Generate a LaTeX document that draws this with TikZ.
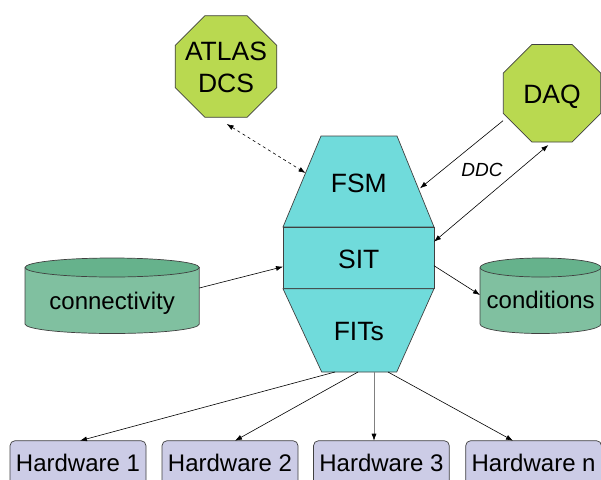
\documentclass[tikz,border=0pt]{standalone}
\usepackage{fontspec}
\setmainfont{Liberation Sans}
\usetikzlibrary{shapes.geometric,arrows.meta}
\definecolor{cyanfill}{RGB}{112,219,219}
\definecolor{octfill}{RGB}{185,217,80}
\definecolor{cylbody}{RGB}{128,192,160}
\definecolor{cyltop}{RGB}{102,178,140}
\definecolor{hwfill}{RGB}{204,204,230}
\definecolor{edgegray}{RGB}{64,64,64}
\begin{document}
\begin{tikzpicture}[x=1pt,y=-1pt]
\tikzset{
  outl/.style={draw=edgegray, line width=0.7pt},
  octa/.style={regular polygon, regular polygon sides=8, fill=octfill, outl, inner sep=0pt},
  biglbl/.style={font=\fontsize{26.5}{32}\selectfont, inner sep=0pt, align=center},
  medlbl/.style={font=\fontsize{24}{28}\selectfont, inner sep=0pt, anchor=base},
  hwbox/.style={fill=hwfill, outl, rounded corners=5pt},
  tip/.style={-{Latex[length=7pt,width=5pt]}, line width=0.6pt},
  graytip/.style={-{Latex[length=7pt,width=5pt,color=black]}, line width=0.6pt, draw=gray},
  dtip/.style={{Latex[length=7pt,width=5pt]}-{Latex[length=7pt,width=5pt]}, line width=0.6pt},
}
\useasboundingbox (0,0) rectangle (601,479);
\clip (0,0) rectangle (601,479);

% octagons
\node[octa, minimum size=110pt] (atlas) at (226,66.5) {};
\node[biglbl, anchor=center] (atlaslbl) at (226,67.7) {ATLAS\\DCS};
\node[octa, minimum size=105.5pt] (daq) at (552,93.3) {};
\node[biglbl, anchor=base] (daqlbl) at (552,103.3) {DAQ};

% central stack
\filldraw[fill=cyanfill, outl] (321,136) -- (397,136) -- (434,227) -- (283,227) -- cycle;
\filldraw[fill=cyanfill, outl] (283,227) rectangle (434,288.7);
\filldraw[fill=cyanfill, outl] (283,288.7) -- (434,288.7) -- (396.7,372) -- (321.7,372) -- cycle;
\node[biglbl, anchor=base] (fsm) at (358.8,192.7) {FSM};
\node[biglbl, anchor=base] (sit) at (358.8,268.3) {SIT};
\node[biglbl, anchor=base] (fits) at (358.8,340) {FITs};

% cylinders
\fill[cylbody] (25,267.5) rectangle (199.3,324);
\fill[cylbody] (112.15,324) ellipse [x radius=87.15pt, y radius=9.5pt];
\draw[outl] (25,267.5) -- (25,324) arc[start angle=180, end angle=360, x radius=87.15pt, y radius=9.5pt] -- (199.3,267.5);
\filldraw[fill=cyltop, outl] (112.15,267.5) ellipse [x radius=87.15pt, y radius=9.5pt];
\node[medlbl] (conn) at (112.15,309.3) {connectivity};

\fill[cylbody] (480,267.5) rectangle (601,324);
\fill[cylbody] (540.5,324) ellipse [x radius=60.5pt, y radius=9.5pt];
\draw[outl] (480,267.5) -- (480,324) arc[start angle=180, end angle=360, x radius=60.5pt, y radius=9.5pt] -- (601,267.5);
\filldraw[fill=cyltop, outl] (540.5,267.5) ellipse [x radius=60.5pt, y radius=9.5pt];
\node[medlbl] (cond) at (540.7,308.3) {conditions};

% hardware boxes
\draw[hwbox] (10,440.7) rectangle (146,500);
\draw[hwbox] (162,440.7) rectangle (298,500);
\draw[hwbox] (313.5,440.7) rectangle (449.3,500);
\draw[hwbox] (465.7,440.7) rectangle (601.5,500);
\node[medlbl] (hw1) at (78,471) {Hardware 1};
\node[medlbl] (hw2) at (230,471) {Hardware 2};
\node[medlbl] (hw3) at (381.4,471) {Hardware 3};
\node[medlbl] (hwn) at (533.6,471) {Hardware n};

% connector end points
\coordinate (atlasS) at (226.7,124);
\coordinate (fsmL) at (305.5,173);
\coordinate (daqA) at (503,120.7);
\coordinate (fsmR) at (420,188.3);
\coordinate (sitR) at (434,241.7);
\coordinate (daqB) at (548.3,145);
\coordinate (connR) at (199.3,288);
\coordinate (sitL) at (283,266.7);
\coordinate (sitR2) at (434,265.7);
\coordinate (condL) at (480,295);
\coordinate (f1) at (335,372);
\coordinate (f2) at (358,372);
\coordinate (f3) at (374,372);
\coordinate (f4) at (388,372);
\coordinate (h1) at (80,440.7);
\coordinate (h2) at (235,440.7);
\coordinate (h3) at (374,440.7);
\coordinate (h4) at (513,440.7);

% connectors
\draw[dtip, dash pattern=on 3pt off 3pt] (atlasS) -- (fsmL);
\draw[tip] (daqA) -- (fsmR);
\draw[dtip] (sitR) -- (daqB);
\node[font=\fontsize{19}{22}\selectfont\itshape, inner sep=0pt, anchor=base] (ddc) at (482,176) {DDC};
\draw[tip] (connR) -- (sitL);
\draw[tip] (sitR2) -- (condL);
\draw[tip] (f1) -- (h1);
\draw[tip] (f2) -- (h2);
\draw[graytip] (f3) -- (h3);
\draw[tip] (f4) -- (h4);
\end{tikzpicture}
\end{document}
